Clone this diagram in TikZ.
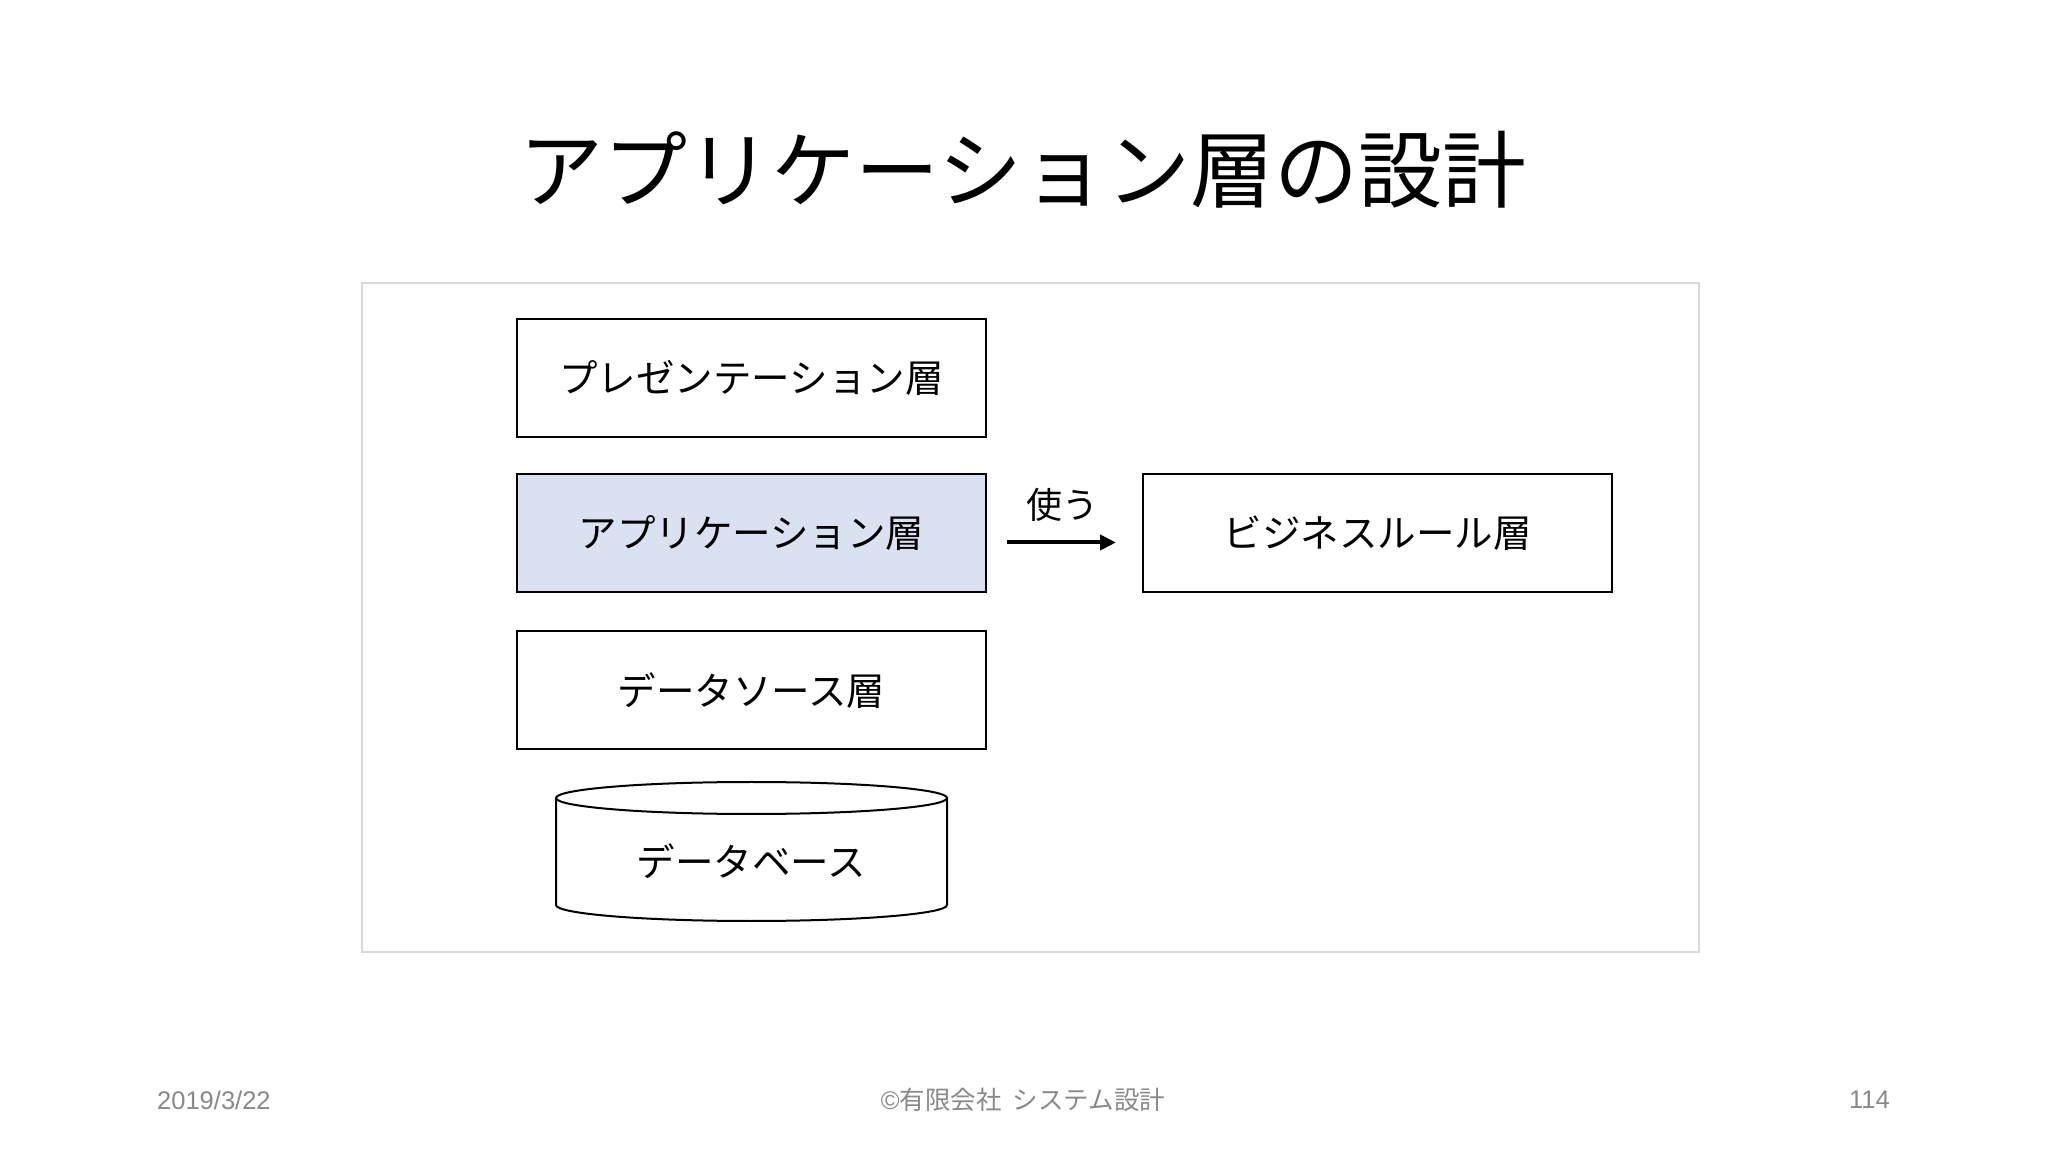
\documentclass[tikz,border=0pt]{standalone}
\usepackage{fontspec}
\setmainfont{Liberation Sans}
\newfontfamily\jp{Noto Sans CJK JP}
\usetikzlibrary{arrows.meta}
\definecolor{appfill}{HTML}{DAE2F2}
\definecolor{framegray}{HTML}{D9D9D9}
\definecolor{footgray}{HTML}{898989}
\tikzset{
  layer/.style={draw=black, line width=2pt, minimum width=469pt, minimum height=118pt, inner sep=0pt, font=\jp\fontsize{38.5}{46}\selectfont},
  usesarrow/.style={line width=4pt, -{Triangle[length=16pt,width=15pt]}},
  foot/.style={text=footgray, font=\fontsize{25.5}{30}\selectfont, inner sep=0pt}
}
\begin{document}
\begin{tikzpicture}[x=1pt,y=1pt]
\useasboundingbox (0,0) rectangle (2048,1152);
\fill[white] (0,0) rectangle (2048,1152);
% title
\node (title) at (1023,982) {\jp\fontsize{84}{96}\selectfont アプリケーション層の設計};
% frame
\draw[framegray, line width=2pt] (362,200) rectangle (1699,869);
% layers
\node[layer] (pres) at (751.5,774) {プレゼンテーション層};
\node[layer, fill=appfill] (app) at (751.5,618.5) {アプリケーション層};
\node[layer] (ds) at (751.5,461.5) {データソース層};
\node[layer] (biz) at (1377.5,618.5) {ビジネスルール層};
% arrow
\draw[usesarrow, shorten <=20pt, shorten >=26pt] ([yshift=-9pt]app.east) -- ([yshift=-9pt]biz.west);
\node (use) at (1062,647) {\jp\fontsize{36}{42}\selectfont 使う};
% database cylinder
\fill[white] (556,354) -- (556,247) arc[start angle=180,end angle=360,x radius=195.5,y radius=16] -- (947,354) -- cycle;
\draw[line width=2pt] (556,354) -- (556,247) arc[start angle=180,end angle=360,x radius=195.5,y radius=16] -- (947,354);
\draw[line width=2pt, fill=white] (751.5,354) ellipse[x radius=195.5,y radius=16];
\node[inner sep=0pt, font=\jp\fontsize{38.5}{46}\selectfont] (db) at (751.5,291) {データベース};
% footer
\node[foot, anchor=west] (date) at (157,52) {2019/3/22};
\node[foot] (copy) at (1023,52) {©\jp 有限会社\ \ システム設計};
\node[foot, anchor=east] (page) at (1890,52) {114};
\end{tikzpicture}
\end{document}
